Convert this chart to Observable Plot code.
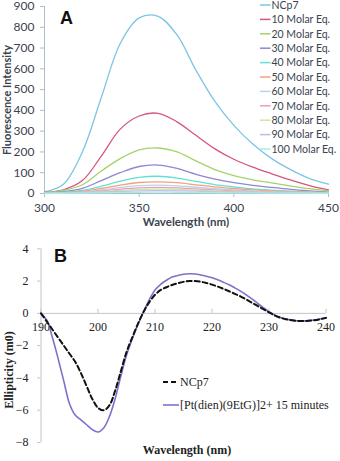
<!DOCTYPE html>
<html><head><meta charset="utf-8">
<script src="https://cdn.jsdelivr.net/npm/d3@7"></script>
<script src="https://cdn.jsdelivr.net/npm/@observablehq/plot@0.6"></script>
<style>
body{margin:0;background:#fff;}
#wrap{width:340px;}
#wrap svg{display:block;}
</style></head><body><div id="wrap"></div>
<script>
// ---------- Panel A data ----------
const wavelengthsA = [300,310,320,330,340,350,360,370,380,390,400,410,420,430,440,450];
const seriesA = ["NCp7","10 Molar Eq.","20 Molar Eq.","30 Molar Eq.","40 Molar Eq.","50 Molar Eq.","60 Molar Eq.","70 Molar Eq.","80 Molar Eq.","90 Molar Eq.","100 Molar Eq."];
const colorsA = ["#7cc5e6","#d7557f","#a4d36a","#8f86d4","#62e1d8","#f7a07a","#b5d5ec","#ef9bbd","#c9e6a2","#c5b9ea","#a2efe6"];
const ncp7A = [8,45,200,462,722,845,853,763,593,443,328,238,168,115,72,45];
const eq10A = [5,18,62,180,310,373,386,345,280,215,165,127,95,65,38,17];
const eq20A = [4,15,42,108,168,210,219,200,157,115,86,66,51,36,23,13];
const eq30A = [3,9,25,62,100,130,137,121,92,69,52,39,29,20,13,7];
const eq40A = [2,6,15,35,60,78,83,74,58,43,32,22,16,11,7,5];
const eq50A = [2,4,10,24,40,53,56,52,42,32,24,17,12,9,6,4];
const eq60A = [1,3,7,17,29,38,40,37,30,23,17,12,9,6,4,3];
const eq70A = [1,2,5,12,21,27,29,27,22,17,13,9,7,5,3,2];
const eq80A = [1,2,4,9,15,20,21,20,16,12,9,7,5,4,3,2];
const eq90A = [1,1,3,6,10,13,14,13,11,8,6,5,4,3,2,2];
const eq100A = [0,1,2,3,5,6,7,6,5,4,3,3,2,2,1,1];
const valuesA = [ncp7A,eq10A,eq20A,eq30A,eq40A,eq50A,eq60A,eq70A,eq80A,eq90A,eq100A];
const xTicksA = [300,350,400,450];
const yTicksA = [0,100,200,300,400,500,600,700,800,900];

// ---------- Panel B data ----------
const wavelengthsB = [190,191,192,193,194,195,196,197,198,199,200,201,202,203,204,205,206,207,208,209,210,211,212,213,214,215,216,217,218,219,220,221,222,223,224,225,226,227,228,229,230,231,232,233,234,235,236,237,238,239,240];
const seriesB = ["NCp7","[Pt(dien)(9EtG)]2+ 15 minutes"];
const ncp7B = [0,-0.5,-1.0,-1.5,-2.0,-2.5,-3.0,-3.7,-4.5,-5.3,-5.85,-6.0,-5.7,-4.8,-3.6,-2.4,-1.5,-0.65,0.1,0.7,1.15,1.45,1.62,1.76,1.87,1.95,2.0,2.0,1.96,1.88,1.78,1.66,1.52,1.37,1.21,1.05,0.86,0.66,0.46,0.26,0.06,-0.13,-0.27,-0.37,-0.43,-0.47,-0.48,-0.46,-0.42,-0.36,-0.28];
const ptB = [0,-0.4,-1.5,-2.8,-4.2,-5.6,-6.3,-6.6,-6.9,-7.2,-7.35,-7.1,-6.4,-5.3,-3.9,-2.6,-1.6,-0.7,0.1,0.85,1.45,1.8,2.05,2.25,2.35,2.42,2.45,2.44,2.38,2.3,2.2,2.08,1.93,1.77,1.58,1.38,1.15,0.9,0.62,0.35,0.1,-0.1,-0.25,-0.35,-0.42,-0.46,-0.47,-0.45,-0.41,-0.35,-0.28];
const xTicksB = [190,200,210,220,230,240];
const yTicksB = [-8,-6,-4,-2,0,2,4];

// ---------- build tables ----------
const rowsA = [];
seriesA.forEach((s,i)=>valuesA[i].forEach((v,j)=>rowsA.push({series:s, x:wavelengthsA[j], y:v})));
const rowsNcp7B = wavelengthsB.map((w,j)=>({x:w, y:ncp7B[j]}));
const rowsPtB = wavelengthsB.map((w,j)=>({x:w, y:ptB[j]}));

const axisColA = "#aebdcb";
const textColA = "#3b4350";
const fontA = "Lato, 'Open Sans', sans-serif";
const fontB = "'Liberation Serif', 'DejaVu Serif', serif";

const plotA = Plot.plot({
  width: 340, height: 231,
  marginLeft: 44, marginRight: 12, marginTop: 6, marginBottom: 38,
  style: {fontFamily: fontA, fontSize: "12px", color: textColA, background: "white", overflow: "visible"},
  x: {domain: [300,450], axis: null},
  y: {domain: [0,900], axis: null},
  color: {domain: seriesA, range: colorsA},
  marks: [
    Plot.ruleY([0], {stroke: axisColA}),
    Plot.ruleX([300], {stroke: axisColA}),
    Plot.axisY(yTicksA, {tickSize: 4, tickPadding: 6, stroke: axisColA, fill: textColA, label: null}),
    Plot.axisX(xTicksA, {tickSize: 4, tickPadding: 6, stroke: axisColA, fill: textColA, label: null}),
    Plot.line(rowsA, {x: "x", y: "y", z: "series", stroke: "series", strokeWidth: 1.3, curve: "catmull-rom"})
  ]
});

const plotB = Plot.plot({
  width: 340, height: 230,
  marginLeft: 40.5, marginRight: 14.5, marginTop: 17.3, marginBottom: 19,
  style: {fontFamily: fontB, fontSize: "12px", color: "#222", background: "white", overflow: "visible"},
  x: {domain: [190,240], axis: null},
  y: {domain: [-8,4], axis: null},
  marks: [
    Plot.ruleY([0], {stroke: "#c4c4c4"}),
    Plot.ruleX([190], {y1: -8, y2: 4, stroke: "#c4c4c4"}),
    Plot.axisY(yTicksB, {tickSize: 3.5, tickPadding: 9, stroke: "#c4c4c4", fill: "#222", label: null}),
    Plot.ruleX(xTicksB, {x: d=>d, y1: 0, y2: 0.25, stroke: "#c4c4c4"}),
    Plot.text(xTicksB, {x: d=>d, y: 0, dy: 14, text: d=>String(d), fill: "#222"}),
    Plot.line(rowsPtB, {x: "x", y: "y", stroke: "#7b73c8", strokeWidth: 1.6, curve: "catmull-rom"}),
    Plot.line(rowsNcp7B, {x: "x", y: "y", stroke: "#111", strokeWidth: 2, strokeDasharray: "5,3", curve: "catmull-rom"})
  ]
});

const wrap = document.getElementById("wrap");
wrap.appendChild(plotA);
wrap.appendChild(plotB);

// ---------- annotations Panel A ----------
const sA = d3.select(plotA);
sA.append("text").attr("x", 60).attr("y", 24).attr("text-anchor", "start").attr("font-family", "'Liberation Sans', Arial, sans-serif")
  .attr("font-weight", "bold").attr("font-size", 18).attr("fill", "#111").text("A");
sA.append("text").attr("transform", "translate(11,100) rotate(-90)").attr("text-anchor", "middle")
  .attr("font-family", fontA).attr("font-weight", "bold").attr("font-size", 11).attr("fill", textColA)
  .text("Fluorescence Intensity");
sA.append("text").attr("x", 186).attr("y", 226).attr("text-anchor", "middle")
  .attr("font-family", fontA).attr("font-weight", "bold").attr("font-size", 11.5).attr("fill", textColA)
  .text("Wavelength (nm)");
const lgA = sA.append("g");
seriesA.forEach((s,i)=>{
  const y = 5 + i*14.4;
  lgA.append("line").attr("x1", 260).attr("x2", 270.5).attr("y1", y).attr("y2", y)
    .attr("stroke", colorsA[i]).attr("stroke-width", 1.5);
  lgA.append("text").attr("x", 271.5).attr("y", y + 3.8).attr("text-anchor", "start").attr("font-family", fontA)
    .attr("font-size", 10.5).attr("fill", textColA).text(s);
});

// ---------- annotations Panel B ----------
const sB = d3.select(plotB);
sB.append("text").attr("x", 54).attr("y", 31).attr("text-anchor", "start").attr("font-family", "'Liberation Sans', Arial, sans-serif")
  .attr("font-weight", "bold").attr("font-size", 18).attr("fill", "#111").text("B");
sB.append("text").attr("transform", "translate(13,139) rotate(-90)").attr("text-anchor", "middle")
  .attr("font-family", fontB).attr("font-weight", "bold").attr("font-size", 12).attr("fill", "#222")
  .text("Ellipticity (m0)");
sB.append("text").attr("x", 187).attr("y", 223).attr("text-anchor", "middle")
  .attr("font-family", fontB).attr("font-weight", "bold").attr("font-size", 12).attr("fill", "#222")
  .text("Wavelength (nm)");
const lgB = sB.append("g");
lgB.append("line").attr("x1", 163).attr("x2", 179).attr("y1", 151).attr("y2", 151)
  .attr("stroke", "#111").attr("stroke-width", 2).attr("stroke-dasharray", "5,3");
lgB.append("text").attr("x", 180).attr("y", 155).attr("text-anchor", "start").attr("font-family", fontB).attr("font-size", 12).attr("fill", "#222").text(seriesB[0]);
lgB.append("line").attr("x1", 163).attr("x2", 179).attr("y1", 174).attr("y2", 174)
  .attr("stroke", "#7b73c8").attr("stroke-width", 1.6);
lgB.append("text").attr("x", 180).attr("y", 178).attr("text-anchor", "start").attr("font-family", fontB).attr("font-size", 12).attr("fill", "#222").text(seriesB[1]);
</script>
</body></html>
